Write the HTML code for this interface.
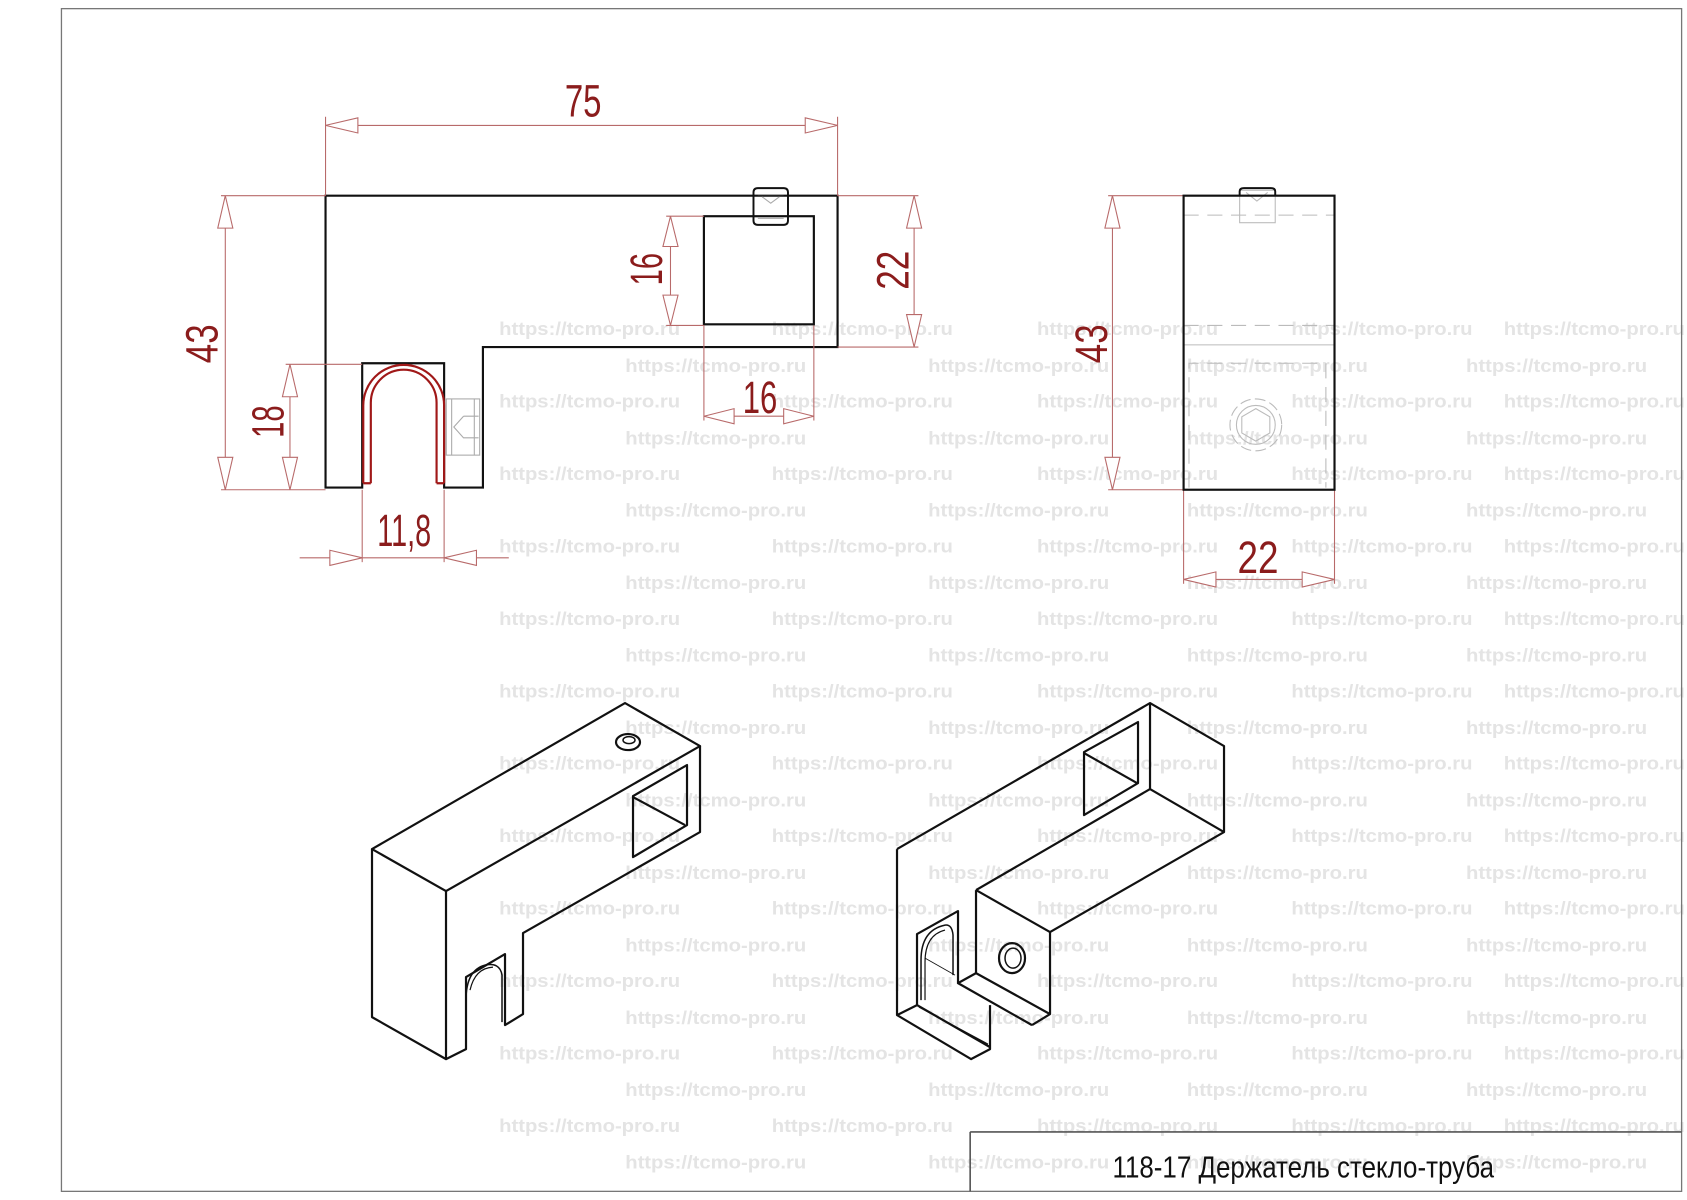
<!DOCTYPE html>
<html><head><meta charset="utf-8"><style>
html,body{margin:0;padding:0;background:#fff;}
svg{display:block;}
.wm{font-family:"Liberation Sans",sans-serif;font-weight:bold;font-size:17px;fill:#e4e4e4;}
.d{font-family:"Liberation Sans",sans-serif;font-size:42px;fill:#8b1c1c;}
</style></head><body>
<svg width="1687" height="1200" viewBox="0 0 1565 1110" preserveAspectRatio="none" xmlns="http://www.w3.org/2000/svg">
<rect x="0" y="0" width="1565" height="1110" fill="#fff"/>
<!-- watermarks -->
<g class="wm">
<text x="463" y="310" textLength="168" lengthAdjust="spacingAndGlyphs">https://tcmo-pro.ru</text>
<text x="716" y="310" textLength="168" lengthAdjust="spacingAndGlyphs">https://tcmo-pro.ru</text>
<text x="962" y="310" textLength="168" lengthAdjust="spacingAndGlyphs">https://tcmo-pro.ru</text>
<text x="1198" y="310" textLength="168" lengthAdjust="spacingAndGlyphs">https://tcmo-pro.ru</text>
<text x="1395" y="310" textLength="168" lengthAdjust="spacingAndGlyphs">https://tcmo-pro.ru</text>
<text x="580" y="344" textLength="168" lengthAdjust="spacingAndGlyphs">https://tcmo-pro.ru</text>
<text x="861" y="344" textLength="168" lengthAdjust="spacingAndGlyphs">https://tcmo-pro.ru</text>
<text x="1101" y="344" textLength="168" lengthAdjust="spacingAndGlyphs">https://tcmo-pro.ru</text>
<text x="1360" y="344" textLength="168" lengthAdjust="spacingAndGlyphs">https://tcmo-pro.ru</text>
</g>
<g class="wm" transform="translate(0,67)">
<text x="463" y="310" textLength="168" lengthAdjust="spacingAndGlyphs">https://tcmo-pro.ru</text>
<text x="716" y="310" textLength="168" lengthAdjust="spacingAndGlyphs">https://tcmo-pro.ru</text>
<text x="962" y="310" textLength="168" lengthAdjust="spacingAndGlyphs">https://tcmo-pro.ru</text>
<text x="1198" y="310" textLength="168" lengthAdjust="spacingAndGlyphs">https://tcmo-pro.ru</text>
<text x="1395" y="310" textLength="168" lengthAdjust="spacingAndGlyphs">https://tcmo-pro.ru</text>
<text x="580" y="344" textLength="168" lengthAdjust="spacingAndGlyphs">https://tcmo-pro.ru</text>
<text x="861" y="344" textLength="168" lengthAdjust="spacingAndGlyphs">https://tcmo-pro.ru</text>
<text x="1101" y="344" textLength="168" lengthAdjust="spacingAndGlyphs">https://tcmo-pro.ru</text>
<text x="1360" y="344" textLength="168" lengthAdjust="spacingAndGlyphs">https://tcmo-pro.ru</text>
</g>
<g class="wm" transform="translate(0,134)">
<text x="463" y="310" textLength="168" lengthAdjust="spacingAndGlyphs">https://tcmo-pro.ru</text>
<text x="716" y="310" textLength="168" lengthAdjust="spacingAndGlyphs">https://tcmo-pro.ru</text>
<text x="962" y="310" textLength="168" lengthAdjust="spacingAndGlyphs">https://tcmo-pro.ru</text>
<text x="1198" y="310" textLength="168" lengthAdjust="spacingAndGlyphs">https://tcmo-pro.ru</text>
<text x="1395" y="310" textLength="168" lengthAdjust="spacingAndGlyphs">https://tcmo-pro.ru</text>
<text x="580" y="344" textLength="168" lengthAdjust="spacingAndGlyphs">https://tcmo-pro.ru</text>
<text x="861" y="344" textLength="168" lengthAdjust="spacingAndGlyphs">https://tcmo-pro.ru</text>
<text x="1101" y="344" textLength="168" lengthAdjust="spacingAndGlyphs">https://tcmo-pro.ru</text>
<text x="1360" y="344" textLength="168" lengthAdjust="spacingAndGlyphs">https://tcmo-pro.ru</text>
</g>
<g class="wm" transform="translate(0,201)">
<text x="463" y="310" textLength="168" lengthAdjust="spacingAndGlyphs">https://tcmo-pro.ru</text>
<text x="716" y="310" textLength="168" lengthAdjust="spacingAndGlyphs">https://tcmo-pro.ru</text>
<text x="962" y="310" textLength="168" lengthAdjust="spacingAndGlyphs">https://tcmo-pro.ru</text>
<text x="1198" y="310" textLength="168" lengthAdjust="spacingAndGlyphs">https://tcmo-pro.ru</text>
<text x="1395" y="310" textLength="168" lengthAdjust="spacingAndGlyphs">https://tcmo-pro.ru</text>
<text x="580" y="344" textLength="168" lengthAdjust="spacingAndGlyphs">https://tcmo-pro.ru</text>
<text x="861" y="344" textLength="168" lengthAdjust="spacingAndGlyphs">https://tcmo-pro.ru</text>
<text x="1101" y="344" textLength="168" lengthAdjust="spacingAndGlyphs">https://tcmo-pro.ru</text>
<text x="1360" y="344" textLength="168" lengthAdjust="spacingAndGlyphs">https://tcmo-pro.ru</text>
</g>
<g class="wm" transform="translate(0,268)">
<text x="463" y="310" textLength="168" lengthAdjust="spacingAndGlyphs">https://tcmo-pro.ru</text>
<text x="716" y="310" textLength="168" lengthAdjust="spacingAndGlyphs">https://tcmo-pro.ru</text>
<text x="962" y="310" textLength="168" lengthAdjust="spacingAndGlyphs">https://tcmo-pro.ru</text>
<text x="1198" y="310" textLength="168" lengthAdjust="spacingAndGlyphs">https://tcmo-pro.ru</text>
<text x="1395" y="310" textLength="168" lengthAdjust="spacingAndGlyphs">https://tcmo-pro.ru</text>
<text x="580" y="344" textLength="168" lengthAdjust="spacingAndGlyphs">https://tcmo-pro.ru</text>
<text x="861" y="344" textLength="168" lengthAdjust="spacingAndGlyphs">https://tcmo-pro.ru</text>
<text x="1101" y="344" textLength="168" lengthAdjust="spacingAndGlyphs">https://tcmo-pro.ru</text>
<text x="1360" y="344" textLength="168" lengthAdjust="spacingAndGlyphs">https://tcmo-pro.ru</text>
</g>
<g class="wm" transform="translate(0,335)">
<text x="463" y="310" textLength="168" lengthAdjust="spacingAndGlyphs">https://tcmo-pro.ru</text>
<text x="716" y="310" textLength="168" lengthAdjust="spacingAndGlyphs">https://tcmo-pro.ru</text>
<text x="962" y="310" textLength="168" lengthAdjust="spacingAndGlyphs">https://tcmo-pro.ru</text>
<text x="1198" y="310" textLength="168" lengthAdjust="spacingAndGlyphs">https://tcmo-pro.ru</text>
<text x="1395" y="310" textLength="168" lengthAdjust="spacingAndGlyphs">https://tcmo-pro.ru</text>
<text x="580" y="344" textLength="168" lengthAdjust="spacingAndGlyphs">https://tcmo-pro.ru</text>
<text x="861" y="344" textLength="168" lengthAdjust="spacingAndGlyphs">https://tcmo-pro.ru</text>
<text x="1101" y="344" textLength="168" lengthAdjust="spacingAndGlyphs">https://tcmo-pro.ru</text>
<text x="1360" y="344" textLength="168" lengthAdjust="spacingAndGlyphs">https://tcmo-pro.ru</text>
</g>
<g class="wm" transform="translate(0,402)">
<text x="463" y="310" textLength="168" lengthAdjust="spacingAndGlyphs">https://tcmo-pro.ru</text>
<text x="716" y="310" textLength="168" lengthAdjust="spacingAndGlyphs">https://tcmo-pro.ru</text>
<text x="962" y="310" textLength="168" lengthAdjust="spacingAndGlyphs">https://tcmo-pro.ru</text>
<text x="1198" y="310" textLength="168" lengthAdjust="spacingAndGlyphs">https://tcmo-pro.ru</text>
<text x="1395" y="310" textLength="168" lengthAdjust="spacingAndGlyphs">https://tcmo-pro.ru</text>
<text x="580" y="344" textLength="168" lengthAdjust="spacingAndGlyphs">https://tcmo-pro.ru</text>
<text x="861" y="344" textLength="168" lengthAdjust="spacingAndGlyphs">https://tcmo-pro.ru</text>
<text x="1101" y="344" textLength="168" lengthAdjust="spacingAndGlyphs">https://tcmo-pro.ru</text>
<text x="1360" y="344" textLength="168" lengthAdjust="spacingAndGlyphs">https://tcmo-pro.ru</text>
</g>
<g class="wm" transform="translate(0,469)">
<text x="463" y="310" textLength="168" lengthAdjust="spacingAndGlyphs">https://tcmo-pro.ru</text>
<text x="716" y="310" textLength="168" lengthAdjust="spacingAndGlyphs">https://tcmo-pro.ru</text>
<text x="962" y="310" textLength="168" lengthAdjust="spacingAndGlyphs">https://tcmo-pro.ru</text>
<text x="1198" y="310" textLength="168" lengthAdjust="spacingAndGlyphs">https://tcmo-pro.ru</text>
<text x="1395" y="310" textLength="168" lengthAdjust="spacingAndGlyphs">https://tcmo-pro.ru</text>
<text x="580" y="344" textLength="168" lengthAdjust="spacingAndGlyphs">https://tcmo-pro.ru</text>
<text x="861" y="344" textLength="168" lengthAdjust="spacingAndGlyphs">https://tcmo-pro.ru</text>
<text x="1101" y="344" textLength="168" lengthAdjust="spacingAndGlyphs">https://tcmo-pro.ru</text>
<text x="1360" y="344" textLength="168" lengthAdjust="spacingAndGlyphs">https://tcmo-pro.ru</text>
</g>
<g class="wm" transform="translate(0,536)">
<text x="463" y="310" textLength="168" lengthAdjust="spacingAndGlyphs">https://tcmo-pro.ru</text>
<text x="716" y="310" textLength="168" lengthAdjust="spacingAndGlyphs">https://tcmo-pro.ru</text>
<text x="962" y="310" textLength="168" lengthAdjust="spacingAndGlyphs">https://tcmo-pro.ru</text>
<text x="1198" y="310" textLength="168" lengthAdjust="spacingAndGlyphs">https://tcmo-pro.ru</text>
<text x="1395" y="310" textLength="168" lengthAdjust="spacingAndGlyphs">https://tcmo-pro.ru</text>
<text x="580" y="344" textLength="168" lengthAdjust="spacingAndGlyphs">https://tcmo-pro.ru</text>
<text x="861" y="344" textLength="168" lengthAdjust="spacingAndGlyphs">https://tcmo-pro.ru</text>
<text x="1101" y="344" textLength="168" lengthAdjust="spacingAndGlyphs">https://tcmo-pro.ru</text>
<text x="1360" y="344" textLength="168" lengthAdjust="spacingAndGlyphs">https://tcmo-pro.ru</text>
</g>
<g class="wm" transform="translate(0,603)">
<text x="463" y="310" textLength="168" lengthAdjust="spacingAndGlyphs">https://tcmo-pro.ru</text>
<text x="716" y="310" textLength="168" lengthAdjust="spacingAndGlyphs">https://tcmo-pro.ru</text>
<text x="962" y="310" textLength="168" lengthAdjust="spacingAndGlyphs">https://tcmo-pro.ru</text>
<text x="1198" y="310" textLength="168" lengthAdjust="spacingAndGlyphs">https://tcmo-pro.ru</text>
<text x="1395" y="310" textLength="168" lengthAdjust="spacingAndGlyphs">https://tcmo-pro.ru</text>
<text x="580" y="344" textLength="168" lengthAdjust="spacingAndGlyphs">https://tcmo-pro.ru</text>
<text x="861" y="344" textLength="168" lengthAdjust="spacingAndGlyphs">https://tcmo-pro.ru</text>
<text x="1101" y="344" textLength="168" lengthAdjust="spacingAndGlyphs">https://tcmo-pro.ru</text>
<text x="1360" y="344" textLength="168" lengthAdjust="spacingAndGlyphs">https://tcmo-pro.ru</text>
</g>
<g class="wm" transform="translate(0,670)">
<text x="463" y="310" textLength="168" lengthAdjust="spacingAndGlyphs">https://tcmo-pro.ru</text>
<text x="716" y="310" textLength="168" lengthAdjust="spacingAndGlyphs">https://tcmo-pro.ru</text>
<text x="962" y="310" textLength="168" lengthAdjust="spacingAndGlyphs">https://tcmo-pro.ru</text>
<text x="1198" y="310" textLength="168" lengthAdjust="spacingAndGlyphs">https://tcmo-pro.ru</text>
<text x="1395" y="310" textLength="168" lengthAdjust="spacingAndGlyphs">https://tcmo-pro.ru</text>
<text x="580" y="344" textLength="168" lengthAdjust="spacingAndGlyphs">https://tcmo-pro.ru</text>
<text x="861" y="344" textLength="168" lengthAdjust="spacingAndGlyphs">https://tcmo-pro.ru</text>
<text x="1101" y="344" textLength="168" lengthAdjust="spacingAndGlyphs">https://tcmo-pro.ru</text>
<text x="1360" y="344" textLength="168" lengthAdjust="spacingAndGlyphs">https://tcmo-pro.ru</text>
</g>
<g class="wm" transform="translate(0,737)">
<text x="463" y="310" textLength="168" lengthAdjust="spacingAndGlyphs">https://tcmo-pro.ru</text>
<text x="716" y="310" textLength="168" lengthAdjust="spacingAndGlyphs">https://tcmo-pro.ru</text>
<text x="962" y="310" textLength="168" lengthAdjust="spacingAndGlyphs">https://tcmo-pro.ru</text>
<text x="1198" y="310" textLength="168" lengthAdjust="spacingAndGlyphs">https://tcmo-pro.ru</text>
<text x="1395" y="310" textLength="168" lengthAdjust="spacingAndGlyphs">https://tcmo-pro.ru</text>
<text x="580" y="344" textLength="168" lengthAdjust="spacingAndGlyphs">https://tcmo-pro.ru</text>
<text x="861" y="344" textLength="168" lengthAdjust="spacingAndGlyphs">https://tcmo-pro.ru</text>
<text x="1101" y="344" textLength="168" lengthAdjust="spacingAndGlyphs">https://tcmo-pro.ru</text>
<text x="1360" y="344" textLength="168" lengthAdjust="spacingAndGlyphs">https://tcmo-pro.ru</text>
</g>

<!-- frame -->
<rect x="57" y="8" width="1503" height="1094" fill="none" stroke="#777" stroke-width="1.2"/>
<line x1="900" y1="1047" x2="1560" y2="1047" stroke="#555" stroke-width="1.5"/>
<line x1="900" y1="1047" x2="900" y2="1102" stroke="#555" stroke-width="1.5"/>
<text x="1032" y="1089" font-family="Liberation Sans,'Noto Sans CJK SC',sans-serif" font-size="28" fill="#111" textLength="354" lengthAdjust="spacingAndGlyphs">118-17 Держатель стекло-труба</text>

<!-- front view -->
<g fill="none" stroke="#111" stroke-width="2">
<path d="M302,181 H777 V321 H448 V451 H412 V336 H336 V451 H302 Z"/>
<rect x="653" y="200" width="102" height="100"/>
</g>
<g fill="none" stroke="#111" stroke-width="1.8">
<path d="M699,178 Q699,174 703,174 H727 Q731,174 731,178 V204 Q731,208 727,208 H703 Q699,208 699,204 Z"/>
</g>
<g fill="none" stroke="#aaa" stroke-width="1">
<line x1="703" y1="180" x2="727" y2="180"/><line x1="703" y1="202" x2="727" y2="202"/>
<path d="M707,182 L715,188 L723,182"/>
<rect x="414" y="369" width="31" height="52"/>
<line x1="419" y1="369" x2="419" y2="421"/><line x1="440" y1="369" x2="440" y2="421"/>
<path d="M430,385 L421,395 L430,405 H444 M430,385 H444"/>
<line x1="1103" y1="200" x2="1103" y2="200"/>
</g>
<g fill="none" stroke="#a01818" stroke-width="2">
<path d="M337,447 V375 A37.5,37.5 0 0 1 412,375 V447"/>
<path d="M344,447 V372.5 A30.5,30.5 0 0 1 405,372.5 V447"/>
<path d="M337,447 H344 M405,447 H412"/>
</g>

<!-- dims -->
<g stroke="#b86a6a" stroke-width="1" fill="none">
<line x1="302" y1="108" x2="302" y2="181"/><line x1="777" y1="108" x2="777" y2="181"/>
<line x1="302" y1="116" x2="777" y2="116"/>
<line x1="205" y1="181" x2="302" y2="181"/><line x1="205" y1="453" x2="302" y2="453"/>
<line x1="209" y1="181" x2="209" y2="453"/>
<line x1="265" y1="337" x2="336" y2="337"/><line x1="269" y1="337" x2="269" y2="453"/>
<line x1="618" y1="200" x2="653" y2="200"/><line x1="618" y1="301" x2="653" y2="301"/>
<line x1="622" y1="200" x2="622" y2="301"/>
<line x1="777" y1="181" x2="852" y2="181"/><line x1="777" y1="321" x2="852" y2="321"/>
<line x1="848" y1="181" x2="848" y2="321"/>
<line x1="653" y1="301" x2="653" y2="389"/><line x1="755" y1="301" x2="755" y2="389"/>
<line x1="653" y1="385" x2="755" y2="385"/>
<line x1="336" y1="453" x2="336" y2="520"/><line x1="412" y1="453" x2="412" y2="520"/>
<line x1="278" y1="516" x2="472" y2="516"/>
<line x1="1028" y1="181" x2="1098" y2="181"/><line x1="1028" y1="453" x2="1098" y2="453"/>
<line x1="1032" y1="181" x2="1032" y2="453"/>
<line x1="1098" y1="453" x2="1098" y2="540"/><line x1="1238" y1="453" x2="1238" y2="540"/>
<line x1="1098" y1="536" x2="1238" y2="536"/>
</g>
<g stroke="#b86a6a" stroke-width="1" fill="#fff">
<polygon points="302,116 332,109 332,123"/><polygon points="777,116 747,109 747,123"/>
<polygon points="209,181 202,211 216,211"/><polygon points="209,453 202,423 216,423"/>
<polygon points="269,337 262,367 276,367"/><polygon points="269,453 262,423 276,423"/>
<polygon points="622,200 615,228 629,228"/><polygon points="622,301 615,273 629,273"/>
<polygon points="848,181 841,211 855,211"/><polygon points="848,321 841,291 855,291"/>
<polygon points="653,385 681,378 681,392"/><polygon points="755,385 727,378 727,392"/>
<polygon points="336,516 306,509 306,523"/><polygon points="412,516 442,509 442,523"/>
<polygon points="1032,181 1025,211 1039,211"/><polygon points="1032,453 1025,423 1039,423"/>
<polygon points="1098,536 1128,529 1128,543"/><polygon points="1238,536 1208,529 1208,543"/>
</g>
<g class="d" text-anchor="middle">
<text x="541" y="108" textLength="34" lengthAdjust="spacingAndGlyphs">75</text>
<text transform="translate(202,318) rotate(-90)" textLength="36" lengthAdjust="spacingAndGlyphs">43</text>
<text transform="translate(263,390) rotate(-90)" textLength="30" lengthAdjust="spacingAndGlyphs">18</text>
<text transform="translate(614,249) rotate(-90)" textLength="30" lengthAdjust="spacingAndGlyphs">16</text>
<text transform="translate(843,250) rotate(-90)" textLength="36" lengthAdjust="spacingAndGlyphs">22</text>
<text x="705" y="382" textLength="32" lengthAdjust="spacingAndGlyphs">16</text>
<text x="375" y="505" textLength="50" lengthAdjust="spacingAndGlyphs">11,8</text>
<text transform="translate(1027,318) rotate(-90)" textLength="36" lengthAdjust="spacingAndGlyphs">43</text>
<text x="1167" y="530" textLength="38" lengthAdjust="spacingAndGlyphs">22</text>
</g>

<!-- side view -->
<g fill="none" stroke="#bbb" stroke-width="1" stroke-dasharray="14,8">
<line x1="1098" y1="199" x2="1238" y2="199"/>
<line x1="1098" y1="301" x2="1238" y2="301"/>
<path d="M1103,451 V336 H1230 V451"/>
<circle cx="1165" cy="393" r="24" stroke-dasharray="10,4"/>
</g>
<g fill="none" stroke="#bbb" stroke-width="1">
<line x1="1098" y1="319" x2="1238" y2="319"/>
<circle cx="1165" cy="393" r="18"/>
<polygon points="1165,378 1178,385.5 1178,400.5 1165,408 1152,400.5 1152,385.5"/>
<rect x="1150" y="176" width="33" height="30"/>
<path d="M1156,178 L1166,186 L1176,178"/>
</g>
<rect x="1098" y="181" width="140" height="272" fill="none" stroke="#111" stroke-width="2"/>
<path d="M1150,181 V177 Q1150,174 1154,174 H1179 Q1183,174 1183,177 V181" fill="none" stroke="#111" stroke-width="1.8"/>

<!-- isometric views in actual coords -->
<g transform="scale(0.9277,0.9251)" fill="none" stroke="#111" stroke-width="2.2" stroke-linejoin="round">
<!-- left iso -->
<polygon points="372,849 625,703 700,746 446,891"/>
<path d="M372,849 V1017 L446,1059 V891"/>
<path d="M700,746 V832 L523,933 V1014 L505,1025 V954 L466,977 V1049 L446,1059"/>
<polygon points="633,796 687,765 687,825 633,857"/>
<line x1="633" y1="797" x2="685" y2="825"/>
<ellipse cx="628" cy="742" rx="12" ry="8"/>
<ellipse cx="629" cy="740" rx="6" ry="3.5" stroke-width="1.5"/>
<path d="M466,1000 Q466,970 485,965 Q500,962 502,975 V1022" stroke-width="1.5"/>
<path d="M470,990 Q475,968 493,967" stroke-width="1.2"/>
<!-- right iso -->
<path d="M897,849 L1150,703 L1224,746 V832 L1050,932 V1014 L1032,1025"/>
<path d="M1150,703 V789 L1224,832"/>
<path d="M976,890 L1150,789"/>
<path d="M976,890 L1050,932"/>
<path d="M976,890 V973 L1050,1014"/>
<path d="M1032,1025 L958,983 L976,973"/>
<path d="M958,983 V911 L917,934 V1005 L990,1047"/>
<path d="M897,849 V1015 L971,1059 L990,1049 V1005"/>
<path d="M897,1015 L917,1005"/>
<polygon points="1084,752 1138,722 1138,783 1084,815"/>
<line x1="1084" y1="753" x2="1137" y2="783"/>
<ellipse cx="1012" cy="958" rx="13" ry="15"/>
<ellipse cx="1013" cy="958" rx="8" ry="10" stroke-width="1.5"/>
<path d="M921,1000 V960 Q921,930 945,925 Q952,924 953,935 V975" stroke-width="1.5"/>
<path d="M925,1000 V962 Q925,935 945,930" stroke-width="1.2"/>
<path d="M919,1007 L988,1044" stroke-width="1.2"/>
<line x1="925" y1="958" x2="955" y2="975" stroke-width="0.8"/>
</g>
</svg>
</body></html>
